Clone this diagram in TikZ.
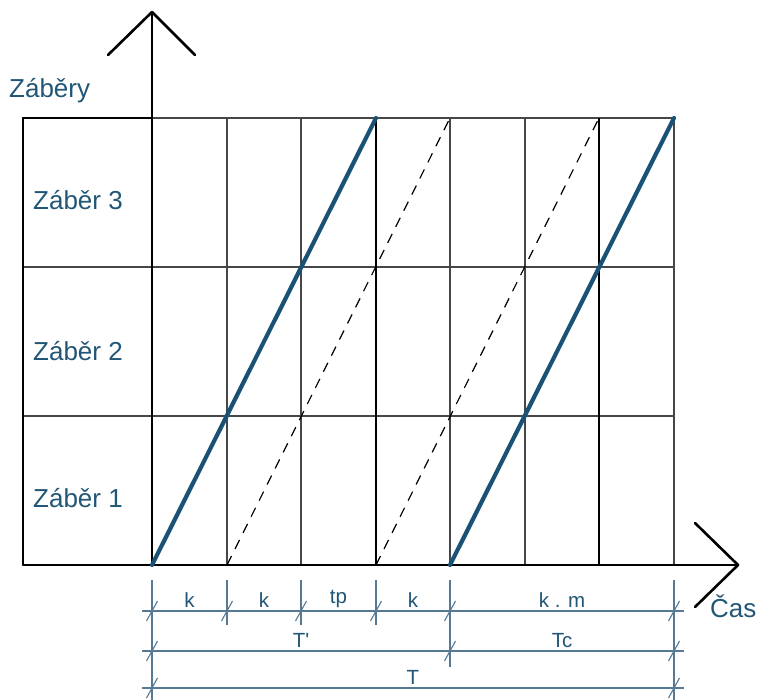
\documentclass[tikz,border=0pt]{standalone}
\usepackage{fontspec}
\setmainfont{Liberation Sans}
\definecolor{txtblue}{RGB}{33,86,118}
\definecolor{lineblue}{RGB}{26,82,118}
\definecolor{dimblue}{RGB}{86,122,148}
\definecolor{gridgray}{RGB}{70,70,70}
\tikzset{
  gridln/.style={draw=gridgray, line width=1.1pt},
  thickln/.style={draw=black, line width=2.6pt},
  axisln/.style={draw=black, line width=2.6pt, line cap=round, line join=round},
  dashln/.style={draw=black, line width=1.2pt, dash pattern=on 10pt off 8pt},
  blueln/.style={draw=lineblue, line width=4.2pt, line cap=round},
  dimln/.style={draw=dimblue, line width=1.1pt},
  rowlbl/.style={text=txtblue, font=\fontsize{26}{26}\selectfont, inner sep=0pt, anchor=base},
  dimlbl/.style={text=txtblue, font=\fontsize{20.5}{20.5}\selectfont, inner sep=1pt, anchor=south},
}
\begin{document}
\begin{tikzpicture}[x=1pt,y=-1pt]
\useasboundingbox (0,0) rectangle (760,700);
% grid coordinates
\foreach \n/\x in {0/152,1/227,2/301,3/376,4/450,5/525,6/599,7/674}{
  \coordinate (t\n) at (\x,118);
  \coordinate (r3\n) at (\x,267);
  \coordinate (r2\n) at (\x,416);
  \coordinate (b\n) at (\x,565);
}
\coordinate (L0) at (23,118);
\coordinate (L1) at (23,267);
\coordinate (L2) at (23,416);
\coordinate (L3) at (23,565);
% thin grid
\draw[gridln] (t0) -- (t7);
\draw[gridln] (L1) -- (r37);
\draw[gridln] (L2) -- (r27);
\foreach \n in {1,2,4,5,7}{ \draw[gridln] (t\n) -- (b\n); }
% thick lines
\foreach \n in {3,6}{ \draw[thickln] (t\n) -- (b\n); }
\draw[thickln] (t0) -- (L0) -- (L3);
% axes
\coordinate (ytip) at (152,12);
\coordinate (yl) at (108,55);
\coordinate (yr) at (195,55);
\coordinate (xtip) at (738,565);
\coordinate (xu) at (695,523);
\coordinate (xd) at (695,607);
\draw[axisln] (b0) -- (ytip);
\draw[axisln] (yl) -- (ytip) -- (yr);
\draw[axisln] (L3) -- (xtip);
\draw[axisln] (xu) -- (xtip) -- (xd);
% dashed schedules
\draw[dashln] (b1) -- (t4);
\draw[dashln] (b3) -- (t6);
% blue schedules
\draw[blueln] (b0) -- (t3);
\draw[blueln] (b4) -- (t7);
% labels
\node[rowlbl, anchor=base west] (zab) at (9,98) {Záběry};
\node[rowlbl] (z3) at (78,210) {Záběr 3};
\node[rowlbl] (z2) at (78,360) {Záběr 2};
\node[rowlbl] (z1) at (78,507) {Záběr 1};
\node[rowlbl, anchor=base west] (cas) at (710,617) {Čas};
% dimension lines
\coordinate (d1s) at (142,611); \coordinate (d1e) at (684,611);
\coordinate (d2s) at (142,651); \coordinate (d2e) at (684,651);
\coordinate (d3s) at (142,688); \coordinate (d3e) at (684,688);
\draw[dimln] (d1s) -- (d1e);
\draw[dimln] (d2s) -- (d2e);
\draw[dimln] (d3s) -- (d3e);
% extension lines
\foreach \x/\ya/\yb in {152/580/700, 227/580/625, 301/580/625, 376/580/625, 450/580/667, 674/580/700}{
  \draw[dimln] (\x,\ya) -- (\x,\yb);
}
% ticks
\foreach \x/\y in {152/611, 227/611, 301/611, 376/611, 450/611, 674/611,
                   152/651, 450/651, 674/651, 152/688, 674/688}{
  \draw[dimln] (\x,\y) ++(-5.5,10) -- ++(11,-20);
}
% dimension labels
\node[dimlbl] (lk1) at (189.5,609) {k};
\node[dimlbl] (lk2) at (264,609) {k};
\node[dimlbl] (ltp) at (338.5,609) {tp};
\node[dimlbl] (lk3) at (413,609) {k};
\node[dimlbl] (lkm) at (562,609) {k . m};
\node[dimlbl] (lT1) at (301,649) {T\textquotesingle};
\node[dimlbl] (lTc) at (562,649) {Tc};
\node[dimlbl] (lT) at (413,686) {T};
\end{tikzpicture}
\end{document}
